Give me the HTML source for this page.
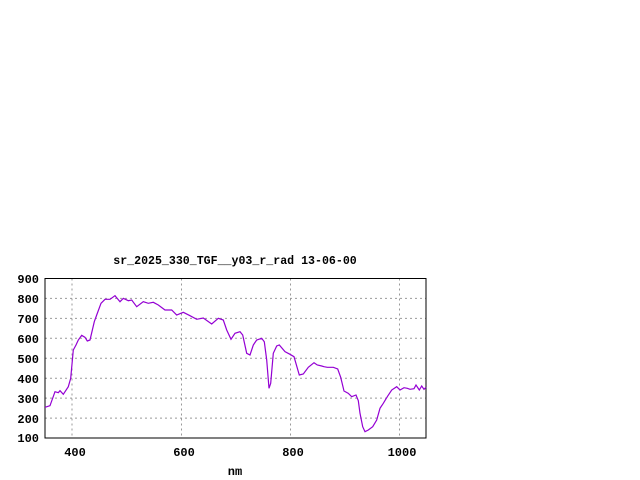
<!DOCTYPE html>
<html><head><style>body{margin:0;background:#fff}svg{display:block}</style></head><body>
<svg width="640" height="480" xmlns="http://www.w3.org/2000/svg" font-family="Liberation Mono, monospace" font-weight="bold" font-size="12">
<rect width="640" height="480" fill="#fff"/>
<g stroke="#999" stroke-dasharray="2,3" stroke-width="1">
<line x1="45" x2="426" y1="298.4" y2="298.4"/><line x1="45" x2="426" y1="318.4" y2="318.4"/>
<line x1="45" x2="426" y1="338.3" y2="338.3"/><line x1="45" x2="426" y1="358.3" y2="358.3"/>
<line x1="45" x2="426" y1="378.2" y2="378.2"/><line x1="45" x2="426" y1="398.1" y2="398.1"/>
<line x1="45" x2="426" y1="418.1" y2="418.1"/>
<line x1="72" x2="72" y1="278.5" y2="438"/><line x1="181.5" x2="181.5" y1="278.5" y2="438"/>
<line x1="290.5" x2="290.5" y1="278.5" y2="438"/><line x1="399.5" x2="399.5" y1="278.5" y2="438"/>
</g>
<rect x="45" y="278.5" width="381" height="159.5" fill="none" stroke="#000" stroke-width="1"/>
<polyline fill="none" stroke="#9400d3" stroke-width="1.2" points="45,407.3 50,405.7 55,391.7 58.3,392.7 60,390.7 63.3,394.3 68.3,386.7 70.7,378.3 73.3,350 76,345 78.3,340 81.7,335.3 85,337.3 87.3,341 90,340 94.3,321.7 96.7,315 101,303.3 105,299.3 110,299.3 115,295.7 120,301.7 123.3,298.3 128.3,300.7 131.7,300 136.7,306.7 143.3,301.7 148.3,303.3 153.3,302.3 158.3,305 165,310 171.7,310 176.7,315 183.3,312.3 190,315.7 196.7,319.3 203.3,318 211.7,324 218.3,318.3 223.3,320 226.7,330 231,339.3 235,333.3 240,331.7 242.7,335 246.7,353.3 250,355 253.3,345 256.7,340 261.7,338.3 264.3,341.7 266.7,360 269,388.3 270.7,383.3 273.3,353.3 276.7,346 279.3,345 285,351.7 290,354.3 294,356.7 299.3,375 303.3,374 308.3,367.3 314,362.7 317.3,365 321.7,366 324,366.7 327.3,367.3 333.3,367.3 337.7,369 340.7,377.3 344,391 348.3,393.3 351.7,396.7 356,395 358.3,400.7 360,413.3 362.7,426.7 365,431.7 368.3,430 372.7,426.7 376.7,420 380,408.3 383.3,403.3 387.3,396.7 391.7,390 396.7,386.7 400,390 404,387.7 407.3,388.3 410,389.3 414,388.7 416,385 419.3,390 421.7,386 424,389.3 426,387.3"/>
<g text-anchor="end">
<text x="39" y="283">900</text><text x="39" y="303">800</text><text x="39" y="323">700</text>
<text x="39" y="343">600</text><text x="39" y="363">500</text><text x="39" y="383">400</text>
<text x="39" y="403">300</text><text x="39" y="423">200</text><text x="39" y="442">100</text>
</g>
<g text-anchor="middle">
<text x="75" y="456">400</text><text x="184" y="456">600</text><text x="293" y="456">800</text><text x="402" y="456">1000</text>
<text x="235" y="475">nm</text>
<text x="235" y="264" font-size="11.6">sr_2025_330_TGF__y03_r_rad 13-06-00</text>
</g>
</svg>
</body></html>
